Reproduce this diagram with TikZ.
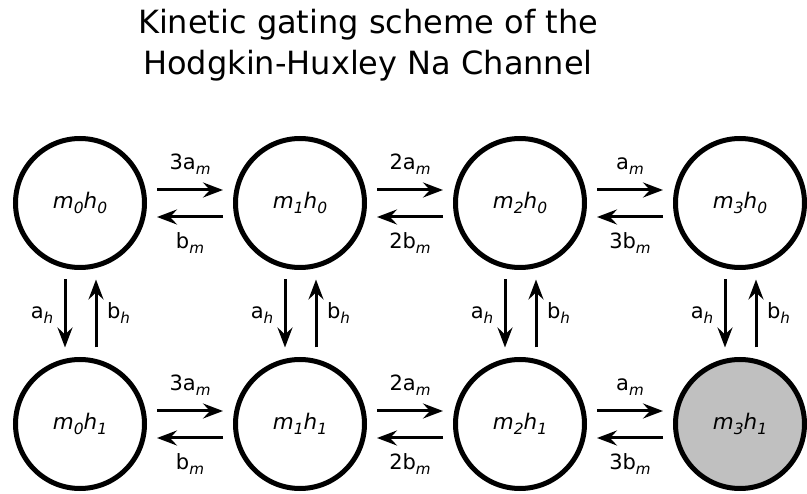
\documentclass[tikz,border=0pt]{standalone}
\usepackage{fontspec}
\setmainfont{DejaVu Sans}
\usepackage{graphicx}
\usetikzlibrary{arrows.meta}
\newcommand{\sbs}[1]{\raisebox{-0.22em}{\scalebox{0.72}{#1}}}
\definecolor{statefill}{RGB}{192,192,192}
\begin{document}
\begin{tikzpicture}[x=1pt,y=-1pt,
  state/.style={circle,draw=black,line width=5pt,minimum size=129pt,inner sep=0pt,
    font=\fontsize{21.5}{25}\selectfont\itshape},
  rate/.style={font=\fontsize{21}{25}\selectfont,anchor=base,inner sep=0pt},
  hlabel/.style={font=\fontsize{32}{39}\selectfont,anchor=base,inner sep=0pt},
  arr/.style={line width=3pt,-{Stealth[length=20pt,width=15pt,inset=7pt]}},
  harr/.style={arr,shorten <=77pt,shorten >=77pt},
  varr/.style={arr,shorten <=76.5pt,shorten >=76.5pt}]
\useasboundingbox (0,0) rectangle (807,494);
\node[hlabel] (t1) at (368,34) {Kinetic gating scheme of the};
\node[hlabel] (t2) at (368,75) {Hodgkin-Huxley Na Channel};
% states
\node[state] (s00) at (80,203) {m\sbs{0}h\sbs{0}};
\node[state] (s10) at (300,203) {m\sbs{1}h\sbs{0}};
\node[state] (s20) at (520,203) {m\sbs{2}h\sbs{0}};
\node[state] (s30) at (740,203) {m\sbs{3}h\sbs{0}};
\node[state] (s01) at (80,424) {m\sbs{0}h\sbs{1}};
\node[state] (s11) at (300,424) {m\sbs{1}h\sbs{1}};
\node[state] (s21) at (520,424) {m\sbs{2}h\sbs{1}};
\node[state,fill=statefill] (s31) at (740,424) {m\sbs{3}h\sbs{1}};
% horizontal transitions
\foreach \a/\b in {00/10,10/20,20/30,01/11,11/21,21/31}{
  \draw[harr] ([yshift=13pt]s\a.center) -- ([yshift=13pt]s\b.center);
  \draw[harr] ([yshift=-14pt]s\b.center) -- ([yshift=-14pt]s\a.center);
}
\foreach \y/\n in {203/0,424/1}{
  \node[rate] (fa\n) at (190,\y-33) {3a\sbs{\itshape m}};
  \node[rate] (fb\n) at (410,\y-33) {2a\sbs{\itshape m}};
  \node[rate] (fc\n) at (630,\y-33) {a\sbs{\itshape m}};
  \node[rate] (ra\n) at (190,\y+46) {b\sbs{\itshape m}};
  \node[rate] (rb\n) at (410,\y+46) {2b\sbs{\itshape m}};
  \node[rate] (rc\n) at (630,\y+46) {3b\sbs{\itshape m}};
}
% vertical transitions
\foreach \c/\x in {0/80,1/300,2/520,3/740}{
  \draw[varr] ([xshift=-15pt]s\c0.center) -- ([xshift=-15pt]s\c1.center);
  \draw[varr] ([xshift=16pt]s\c1.center) -- ([xshift=16pt]s\c0.center);
  \node[rate] (ah\c) at (\x-38,319) {a\sbs{\itshape h}};
  \node[rate] (bh\c) at (\x+38.5,319) {b\sbs{\itshape h}};
}
\end{tikzpicture}
\end{document}
